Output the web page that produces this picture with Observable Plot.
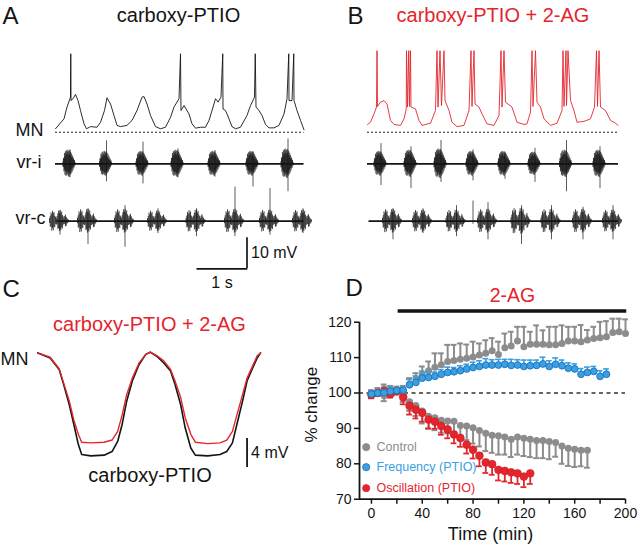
<!DOCTYPE html>
<html><head><meta charset="utf-8">
<script src="https://cdn.jsdelivr.net/npm/d3@7"></script>
<script src="https://cdn.jsdelivr.net/npm/@observablehq/plot@0.6"></script>
<style>
body{margin:0;background:#fff;}
#fig{position:relative;width:640px;height:546px;overflow:hidden;background:#fff;}
.panel{position:absolute;}
.panel svg{overflow:visible;background:transparent;max-width:none;}
</style></head><body><div id="fig"></div>
<script>
// ---------------- DATA ----------------
// Panel A: MN membrane trace, carboxy-PTIO [time s, mV above dashed baseline]
const mnTraceA = [[0.00,1.1],[0.17,4.3],[0.23,8.1],[0.30,11.3],[0.305,25.3],[0.31,10.2],[0.35,10.8],[0.40,12.2],[0.45,10.2],[0.50,7.0],[0.57,2.7],[0.62,1.1],[0.70,1.8],[0.83,1.6],[0.90,3.2],[0.98,7.0],[1.03,11.1],[1.10,9.1],[1.17,5.4],[1.23,2.2],[1.30,1.8],[1.43,2.2],[1.53,3.8],[1.63,7.0],[1.73,11.3],[1.77,11.5],[1.83,9.1],[1.90,5.4],[2.00,1.8],[2.10,1.1],[2.20,1.6],[2.30,4.8],[2.37,8.1],[2.47,10.8],[2.50,25.3],[2.51,7.0],[2.57,8.6],[2.67,5.9],[2.73,2.7],[2.80,1.3],[2.90,1.6],[3.00,1.6],[3.07,3.8],[3.13,7.0],[3.20,10.8],[3.25,9.7],[3.31,11.3],[3.345,25.3],[3.35,7.5],[3.40,7.0],[3.47,4.3],[3.53,1.8],[3.60,1.1],[3.70,1.6],[3.83,5.4],[3.90,8.6],[3.98,11.3],[3.995,25.3],[4.01,8.1],[4.07,7.0],[4.13,5.4],[4.20,2.5],[4.27,1.4],[4.37,1.4],[4.47,2.2],[4.57,5.9],[4.63,10.8],[4.665,25.3],[4.67,10.2],[4.73,10.2],[4.765,25.3],[4.77,10.2],[4.83,7.0],[4.90,3.8],[4.97,0.8]];
// Panel B: MN membrane trace, carboxy-PTIO + 2-AG
const mnTraceB = [[0.00,2.5],[0.06,3.2],[0.13,5.9],[0.18,8.1],[0.19,26.3],[0.20,8.3],[0.26,9.7],[0.33,10.2],[0.39,9.1],[0.46,3.8],[0.53,2.5],[0.66,2.2],[0.73,4.3],[0.775,7.5],[0.78,26.3],[0.80,8.1],[0.825,26.3],[0.84,8.3],[0.86,26.3],[0.87,8.1],[0.96,7.5],[1.03,3.8],[1.09,2.2],[1.26,2.9],[1.36,7.0],[1.39,26.3],[1.41,8.1],[1.45,26.3],[1.48,8.6],[1.53,26.3],[1.55,10.2],[1.63,7.0],[1.69,3.2],[1.79,1.8],[1.93,2.2],[2.03,7.0],[2.07,26.3],[2.09,8.3],[2.13,26.3],[2.15,9.1],[2.23,8.1],[2.29,5.9],[2.39,2.7],[2.53,2.2],[2.63,5.4],[2.67,26.3],[2.69,8.1],[2.73,26.3],[2.76,9.7],[2.89,8.1],[2.99,3.2],[3.13,2.5],[3.19,2.7],[3.26,6.5],[3.29,26.3],[3.31,8.3],[3.36,26.3],[3.39,9.7],[3.46,8.1],[3.53,4.3],[3.66,2.2],[3.79,2.9],[3.89,7.0],[3.91,26.3],[3.93,8.3],[3.97,26.3],[3.98,8.6],[4.01,26.3],[4.06,10.2],[4.13,7.0],[4.19,3.2],[4.33,3.5],[4.46,4.3],[4.54,8.1],[4.58,26.3],[4.60,8.3],[4.63,26.3],[4.66,8.1],[4.76,7.0],[4.86,3.8],[4.96,2.9],[5.01,2.2]];
// ventral-root bursts [centre s, core amplitude mV, tallest up mV, tallest down mV]
const vriBurstsA = [[0.27,3.5,4.5,4.5],[1.00,3.2,7.4,5.8],[1.73,3.2,7.0,6.5],[2.43,3.5,4.8,4.5],[3.17,3.2,4.3,4.3],[3.93,3.2,3.8,7.5],[4.63,3.8,8.0,9.0]];
const vrcBurstsA = [[0.07,2.8,3.5,4.5],[0.63,3.2,4.0,7.5],[1.37,3.2,5.0,8.4],[2.03,2.8,4.0,4.0],[2.80,3.0,4.0,5.0],[3.57,3.2,11.0,5.0],[4.27,3.0,10.5,4.5],[4.93,3.0,4.0,4.0]];
const vriBurstsB = [[0.25,3.2,6.5,7.0],[0.85,3.5,5.5,8.0],[1.45,3.8,7.5,6.0],[2.09,3.2,4.5,5.5],[2.73,3.2,3.5,5.0],[3.33,3.0,5.0,6.0],[3.96,3.5,7.5,9.0],[4.63,3.5,5.5,8.0]];
const vrcBurstsB = [[0.49,3.2,4.0,6.0],[1.09,3.0,4.0,4.0],[1.76,3.0,5.0,5.0],[2.39,3.2,6.0,6.0],[3.06,3.5,5.0,7.5],[3.66,3.2,5.0,6.0],[4.29,3.2,4.5,6.0],[4.89,3.0,5.0,6.0]];
const vrcSinglesB = [[2.09,0.0,6.5,1.0]];
// burst textures: [normalised offset, up, down]
const vriTemplate = [[-1.00,0.20,0.35],[-0.92,0.50,0.30],[-0.84,0.45,0.75],[-0.76,0.95,0.55],[-0.68,0.60,1.05],[-0.60,1.10,0.70],[-0.52,0.75,1.15],[-0.44,1.20,0.85],[-0.36,0.85,1.10],[-0.28,1.05,0.75],[-0.20,1.25,1.00],[-0.12,0.80,1.20],[-0.04,1.15,0.90],[0.04,0.90,1.25],[0.12,1.20,0.85],[0.20,0.70,1.05],[0.28,1.05,0.70],[0.36,0.60,0.95],[0.44,0.90,0.55],[0.52,0.45,0.80],[0.60,0.70,0.40],[0.68,0.35,0.60],[0.76,0.50,0.30],[0.84,0.25,0.40],[0.92,0.30,0.15],[1.00,0.12,0.20]];
const vrcTemplate = [[-1.00,0.30,0.25],[-0.92,0.55,0.70],[-0.84,0.95,0.65],[-0.76,0.75,1.15],[-0.68,1.15,0.85],[-0.60,0.85,1.10],[-0.52,1.00,0.70],[-0.44,0.55,0.75],[-0.36,0.45,0.35],[-0.28,0.30,0.45],[-0.20,0.55,0.40],[-0.12,0.85,0.95],[-0.04,1.15,0.85],[0.04,0.90,1.20],[0.12,1.20,0.95],[0.20,0.85,1.10],[0.28,1.05,0.75],[0.36,0.65,0.90],[0.44,0.50,0.45],[0.52,0.30,0.40],[0.60,0.55,0.35],[0.68,0.70,0.65],[0.76,0.45,0.60],[0.84,0.30,0.35],[0.92,0.18,0.25],[1.00,0.12,0.10]];
const traceSpanA = [0, 4.97];
const traceSpanB = [0, 5.02];
const scaleBarA = {mV: 10, s: 1};

// Panel C: averaged MN cycle [phase (cycles), mV from peak]
const cPhase = [0.00,0.11,0.19,0.23,0.28,0.32,0.36,0.39,0.47,0.59,0.66,0.71,0.75,0.79,0.84,0.90,0.96,1.00,1.06,1.12,1.18,1.22,1.27,1.31,1.36,1.40,1.51,1.62,1.68,1.73,1.77,1.82,1.86,1.91,1.95,1.98];
const cControl = [-0.1,-0.8,-2.4,-4.5,-7.3,-10.0,-12.8,-14.2,-14.4,-14.3,-13.8,-12.4,-10.0,-6.8,-4.0,-1.7,-0.3,0,-0.6,-1.5,-2.6,-4.5,-7.3,-10.5,-13.3,-14.3,-14.4,-14.2,-13.8,-12.6,-10.0,-6.8,-4.0,-2.2,-0.8,-0.1];
const c2AG = [-0.1,-0.7,-2.3,-4.3,-6.8,-9.4,-11.4,-12.5,-12.6,-12.5,-12.2,-11.0,-8.7,-5.9,-3.6,-1.5,-0.3,0,-0.5,-1.2,-2.4,-4.0,-6.3,-9.1,-11.4,-12.5,-12.7,-12.6,-12.2,-11.0,-8.7,-5.9,-3.6,-1.9,-0.5,-0.1];
const scaleBarC = {mV: 4};

// Panel D: % change vs time (min)
const tCtrlFreq = [0,5,10,15,20,25,30,35,40,45,50,55,60,65,70,75,80,85,90,95,100,105,110,115,120,125,130,135,140,145,150,155,160,165,170,175,180,185,190,195,200];
const ctrlFreqMean = [100.0,100.4,101.2,101.0,100.8,100.5,102.5,104.0,105.3,106.3,107.3,108.0,108.9,109.2,109.5,109.8,110.2,110.7,111.2,111.9,110.9,112.8,113.3,114.7,113.1,113.8,113.8,113.8,113.6,113.6,114.0,114.7,114.7,114.5,115.0,115.4,115.6,115.9,117.1,117.3,116.8];
const ctrlFreqSem = [0.8,1.0,1.2,1.0,1.0,1.5,1.7,1.6,2.2,2.6,3.9,3.2,4.7,4.4,4.5,3.9,4.3,3.3,3.7,3.6,3.6,4.0,4.0,4.0,5.6,3.5,5.3,3.9,5.1,5.1,5.1,4.0,4.0,4.7,2.8,3.3,4.5,4.4,3.9,3.7,4.0];
const tCtrlOsc = [0,5,10,15,20,25,30,35,40,45,50,55,60,65,70,75,80,85,90,95,100,105,110,115,120,125,130,135,140,145,150,155,160,165,170];
const ctrlOscMean = [100.0,100.3,99.2,100.8,100.5,99.5,97.5,96.5,94.9,93.4,93.0,92.3,92.1,92.0,90.8,90.7,90.2,89.4,88.6,88.1,87.9,87.6,86.9,87.6,87.2,86.9,86.6,86.6,86.3,86.0,85.0,84.4,84.1,83.8,83.8];
const ctrlOscSem = [0.5,0.8,1.5,0.8,1.0,2.0,2.5,3.0,3.5,3.5,3.5,3.5,3.5,4.0,4.0,4.0,4.5,4.5,5.0,5.0,5.3,5.0,5.0,5.0,5.0,5.0,5.0,5.0,5.0,4.0,5.0,5.0,5.0,4.5,4.9];
const tFreq = [0,5,10,15,20,25,30,35,40,45,50,55,60,65,70,75,80,85,90,95,100,105,110,115,120,125,130,135,140,145,150,155,160,165,170,175,180,185];
const freqMean = [99.7,100.0,100.1,100.5,100.7,100.8,102.3,103.0,104.2,104.4,104.7,105.3,105.8,106.0,106.3,106.8,107.2,107.5,107.9,107.9,107.9,108.1,107.8,107.9,107.5,107.7,107.8,108.2,107.5,108.1,107.7,107.0,106.8,105.3,105.8,106.1,104.7,105.3];
const freqSem = [0.8,0.6,0.8,1.0,0.8,0.8,1.5,1.8,2.0,1.5,1.2,1.3,1.5,1.2,1.4,1.3,1.5,1.6,1.8,1.5,1.6,1.4,1.7,1.5,1.8,1.6,1.5,1.9,1.6,1.8,1.6,1.5,1.4,1.6,1.5,1.4,1.6,1.5];
const tOsc = [0,5,10,15,20,25,30,35,40,45,50,55,60,65,70,75,80,85,90,95,100,105,110,115,120,125];
const oscMean = [99.5,100.0,100.5,99.7,100.6,98.8,96.4,95.3,94.4,92.5,91.9,90.7,89.7,88.3,87.3,85.4,84.0,82.3,80.4,79.9,78.3,78.0,77.6,77.3,76.4,77.3];
const oscSem = [1.0,0.8,0.8,1.0,0.8,2.0,2.5,2.5,2.5,2.5,2.0,2.5,2.5,2.5,2.5,2.5,2.5,3.0,3.0,3.0,3.0,3.0,3.0,3.0,3.0,3.0];
const agApplication = [21, 201];
const yTicks = [70,80,90,100,110,120];
const xTicks = [0,40,80,120,160,200];
const xMinorTicks = [20,60,100,140,180];
const legendLabels = ["Control","Frequency (PTIO)","Oscillation (PTIO)"];

// ---------------- STYLE / LAYOUT ----------------
const FONT = "'Liberation Sans', Arial, Helvetica, sans-serif";
const RED = "#e3262d", BLUE = "#3aa0e4", BLUE_DARK = "#1c70b8", GRAY = "#8c8c8c", INK = "#141414";
const PX_PER_S = 50, PX_PER_MV = 3.1;
const fig = document.getElementById("fig");
function place(svg, left, top, w) {
  const d = document.createElement("div");
  d.className = "panel"; d.style.left = left + "px"; d.style.top = top + "px"; d.style.width = w + "px";
  d.appendChild(svg); fig.appendChild(d);
}
const baseStyle = {fontFamily: FONT, background: "transparent", overflow: "visible", color: INK};
const pts = a => a.map(([t, v]) => ({t, v}));

function vrMarks(bursts, rowV, halfW, template) {
  const segs = [];
  for (const [t, amp] of bursts) for (const [o, u, dn] of template)
    segs.push({t: t + o * halfW, y1: rowV - dn * amp, y2: rowV + u * amp});
  return [
    Plot.ruleX(segs, {x: "t", y1: "y1", y2: "y2", stroke: INK, strokeWidth: 0.8}),
    Plot.ruleX(bursts, {x: d => d[0] + 0.02, y1: d => rowV - d[3], y2: d => rowV + d[2], stroke: INK, strokeWidth: 0.7})
  ];
}

function tracePanel({width, height, originX, originY, mn, mnColor, span, vri, vrc, extra}) {
  const rowVri = (originY - 163.3) / PX_PER_MV;
  const rowVrc = (originY - 220.7) / PX_PER_MV;
  return Plot.plot({
    width, height, margin: 0,
    x: {axis: null, domain: [-originX / PX_PER_S, (width - originX) / PX_PER_S]},
    y: {axis: null, domain: [-(height - originY) / PX_PER_MV, originY / PX_PER_MV]},
    style: baseStyle,
    marks: [
      Plot.ruleY([0], {x1: span[0], x2: span[1], stroke: "#222", strokeWidth: 1.1, strokeDasharray: "2,2"}),
      Plot.line(pts(mn), {x: "t", y: "v", stroke: mnColor, strokeWidth: 0.9}),
      Plot.ruleY([rowVri], {x1: span[0], x2: span[1], stroke: INK, strokeWidth: 1.8}),
      Plot.ruleY([rowVrc], {x1: span[0] + 0.03, x2: span[1], stroke: INK, strokeWidth: 1.8}),
      ...vrMarks(vri, rowVri, 0.12, vriTemplate),
      ...vrMarks(vrc, rowVrc, 0.19, vrcTemplate),
      ...extra(rowVri, rowVrc)
    ]
  });
}

// ---------------- PANEL A ----------------
place(tracePanel({
  width: 320, height: 290, originX: 55, originY: 131.7,
  mn: mnTraceA, mnColor: INK, span: traceSpanA, vri: vriBurstsA, vrc: vrcBurstsA,
  extra: (rowVri, rowVrc) => {
    const barT = 3.83, barV = (131.7 - 268.3) / PX_PER_MV;
    return [
      Plot.text(["A"], {frameAnchor: "top-left", dx: 2, dy: 6, lineAnchor: "top", textAnchor: "start", fontSize: 24, fill: INK}),
      Plot.text(["carboxy-PTIO"], {frameAnchor: "top-left", dx: 178, dy: 7, lineAnchor: "top", textAnchor: "middle", fontSize: 20, fill: INK}),
      Plot.text(["MN"], {frameAnchor: "left", y: 0, dx: 15, dy: -2, textAnchor: "start", lineAnchor: "middle", fontSize: 18, fill: INK}),
      Plot.text(["vr-i"], {frameAnchor: "left", y: rowVri, dx: 16, dy: -2, textAnchor: "start", lineAnchor: "middle", fontSize: 18, fill: INK}),
      Plot.text(["vr-c"], {frameAnchor: "left", y: rowVrc, dx: 15, dy: -3, textAnchor: "start", lineAnchor: "middle", fontSize: 18, fill: INK}),
      Plot.ruleX([barT], {y1: barV, y2: barV + scaleBarA.mV, stroke: INK, strokeWidth: 1.7}),
      Plot.ruleY([barV], {x1: barT - scaleBarA.s, x2: barT + 0.015, stroke: INK, strokeWidth: 1.7}),
      Plot.text([`${scaleBarA.mV} mV`], {x: barT, y: barV + scaleBarA.mV / 2, dx: 4, textAnchor: "start", lineAnchor: "middle", fontSize: 16, fill: INK}),
      Plot.text([`${scaleBarA.s} s`], {x: barT - scaleBarA.s / 2, y: barV, dy: 8, textAnchor: "middle", lineAnchor: "top", fontSize: 16, fill: INK})
    ];
  }
}), 0, 0, 320);

// ---------------- PANEL B ----------------
place(tracePanel({
  width: 320, height: 290, originX: 47, originY: 131.7,
  mn: mnTraceB, mnColor: RED, span: traceSpanB, vri: vriBurstsB, vrc: vrcBurstsB,
  extra: (rowVri, rowVrc) => [
    ...vrMarks(vrcSinglesB, rowVrc, 0.0, vrcTemplate),
    Plot.text(["B"], {frameAnchor: "top-left", dx: 27, dy: 6, lineAnchor: "top", textAnchor: "start", fontSize: 24, fill: INK}),
    Plot.text(["carboxy-PTIO + 2-AG"], {frameAnchor: "top-left", dx: 172.5, dy: 7, lineAnchor: "top", textAnchor: "middle", fontSize: 20, fill: RED})
  ]
}), 320, 0, 320);

// ---------------- PANEL C ----------------
{
  const W = 320, H = 276, ox = 37.3, pxPerCycle = 112.5, oy = 81.7, pxPerMV = 7.2;
  const ctl = cPhase.map((p, i) => ({p, v: cControl[i]}));
  const ag = cPhase.map((p, i) => ({p, v: c2AG[i]}));
  const barP = 1.86, barTop = -12.0;
  place(Plot.plot({
    width: W, height: H, margin: 0,
    x: {axis: null, domain: [-ox / pxPerCycle, (W - ox) / pxPerCycle]},
    y: {axis: null, domain: [-(H - oy) / pxPerMV, oy / pxPerMV]},
    style: baseStyle,
    marks: [
      Plot.line(ctl, {x: "p", y: "v", stroke: INK, strokeWidth: 1.6}),
      Plot.line(ag, {x: "p", y: "v", stroke: RED, strokeWidth: 1.4}),
      Plot.ruleX([barP], {y1: barTop - scaleBarC.mV, y2: barTop, stroke: INK, strokeWidth: 1.8}),
      Plot.text([`${scaleBarC.mV} mV`], {x: barP, y: barTop - scaleBarC.mV / 2, dx: 4, textAnchor: "start", lineAnchor: "middle", fontSize: 16, fill: INK}),
      Plot.text(["C"], {frameAnchor: "top-left", dx: 2, dy: 9, lineAnchor: "top", textAnchor: "start", fontSize: 24, fill: INK}),
      Plot.text(["carboxy-PTIO + 2-AG"], {frameAnchor: "top-left", dx: 149, dy: 46, lineAnchor: "top", textAnchor: "middle", fontSize: 20, fill: RED}),
      Plot.text(["MN"], {frameAnchor: "top-left", dx: 0, dy: 82, lineAnchor: "top", textAnchor: "start", fontSize: 18, fill: INK}),
      Plot.text(["carboxy-PTIO"], {frameAnchor: "top-left", dx: 149.5, dy: 197, lineAnchor: "top", textAnchor: "middle", fontSize: 20, fill: INK})
    ]
  }), 0, 270, W);
}

// ---------------- PANEL D ----------------
{
  const mk = (ts, ms, es) => ts.map((t, i) => ({t, v: ms[i], e: es[i]}));
  const ctrlFreq = mk(tCtrlFreq, ctrlFreqMean, ctrlFreqSem);
  const ctrlOsc = mk(tCtrlOsc, ctrlOscMean, ctrlOscSem);
  const freq = mk(tFreq, freqMean, freqSem);
  const osc = mk(tOsc, oscMean, oscSem);
  const xDom = [-9.4, 200], yDom = [70, 120];
  const cap = 2.3;
  const err = (data, dir, color, w) => {
    const end = d => d.v + dir * d.e;
    return [
      Plot.ruleX(data, {x: "t", y1: "v", y2: end, stroke: color, strokeWidth: w}),
      Plot.ruleY(data, {y: end, x1: d => d.t - cap, x2: d => d.t + cap, stroke: color, strokeWidth: w})
    ];
  };
  const legendColors = [GRAY, BLUE, RED];
  const legendStroke = [GRAY, BLUE_DARK, RED];
  const legendText = [GRAY, BLUE, RED];
  const legendDy = [-52, -32, -11];
  const legendMarks = legendLabels.flatMap((lab, i) => [
    Plot.dot([lab], {frameAnchor: "bottom-left", dx: 6.7, dy: legendDy[i], r: 3.6, fill: legendColors[i], stroke: legendStroke[i], strokeWidth: 0.8}),
    Plot.text([lab], {frameAnchor: "bottom-left", dx: 17, dy: legendDy[i], textAnchor: "start", lineAnchor: "middle", fontSize: 12.5, fill: legendText[i]})
  ]);
  place(Plot.plot({
    width: 320, height: 276, marginLeft: 39, marginRight: 15, marginTop: 51.7, marginBottom: 47.3,
    x: {domain: xDom}, y: {domain: yDom},
    style: {...baseStyle, fontSize: "14px"},
    marks: [
      Plot.ruleY([100], {x1: xDom[0], x2: xDom[1], stroke: "#333", strokeWidth: 1.3, strokeDasharray: "4,3.5"}),
      ...err(ctrlFreq, 1, GRAY, 2),
      ...err(ctrlOsc, -1, GRAY, 2),
      Plot.dot(ctrlFreq, {x: "t", y: "v", r: 3.5, fill: GRAY}),
      Plot.dot(ctrlOsc, {x: "t", y: "v", r: 3.5, fill: GRAY}),
      ...err(osc, -1, RED, 1.8),
      Plot.dot(osc, {x: "t", y: "v", r: 3.9, fill: RED, stroke: "#c81d23", strokeWidth: 0.6}),
      ...err(freq, 1, BLUE, 1.6),
      Plot.dot(freq, {x: "t", y: "v", r: 3.4, fill: BLUE, stroke: BLUE_DARK, strokeWidth: 0.9}),
      Plot.ruleX([xDom[0]], {y1: yDom[0], y2: yDom[1], stroke: INK, strokeWidth: 1.8}),
      Plot.ruleY([yDom[0]], {x1: xDom[0], x2: xDom[1], stroke: INK, strokeWidth: 1.8}),
      Plot.axisY({ticks: yTicks, tickSize: 5, tickPadding: 3, label: null, fontSize: 14, strokeWidth: 1.5, stroke: INK, fill: INK}),
      Plot.axisX({ticks: xTicks, tickSize: 5, tickPadding: 4, label: null, fontSize: 14, strokeWidth: 1.5, stroke: INK, fill: INK}),
      Plot.axisX({ticks: xMinorTicks, tickSize: 5, tickFormat: () => "", label: null, strokeWidth: 1.5, stroke: INK}),
      Plot.text(["% change"], {frameAnchor: "left", dx: -48, dy: -6, rotate: -90, textAnchor: "middle", lineAnchor: "middle", fontSize: 17, fill: INK}),
      Plot.text(["Time (min)"], {frameAnchor: "bottom", dx: -2, dy: 28, textAnchor: "middle", lineAnchor: "top", fontSize: 18, fill: INK}),
      Plot.ruleY([yDom[1]], {x1: agApplication[0], x2: agApplication[1], dy: -11.2, stroke: INK, strokeWidth: 3.6}),
      Plot.text(["2-AG"], {x: (agApplication[0] + agApplication[1]) / 2, y: yDom[1], dy: -33.7, textAnchor: "middle", lineAnchor: "top", fontSize: 19.5, fill: RED}),
      Plot.text(["D"], {frameAnchor: "top-left", dx: -14, dy: -43.7, lineAnchor: "top", textAnchor: "start", fontSize: 24, fill: INK}),
      ...legendMarks
    ]
  }), 320, 270, 320);
}
</script></body></html>
